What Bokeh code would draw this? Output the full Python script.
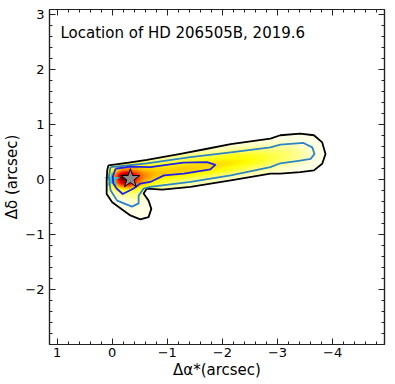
import numpy as np
from bokeh.plotting import figure
from bokeh.models import Range1d, LinearAxis, FixedTicker, Label, LinearColorMapper
from bokeh.embed import file_html
from bokeh.resources import INLINE

# ---------------- data ----------------
title_text = "Location of HD 206505B, 2019.6"
x_label = "Δα*(arcsec)"
y_label = "Δδ (arcsec)"
x_ticks = [1, 0, -1, -2, -3, -4]
x_tick_labels = ["1", "0", "−1", "−2", "−3", "−4"]
y_ticks = [-2, -1, 0, 1, 2, 3]
y_tick_labels = ["−2", "−1", "0", "1", "2", "3"]

host_x = [0.0]
host_y = [0.0]
companion_x = [-0.33]
companion_y = [0.02]

# posterior density model: gaussian components (center, width, weight)
comp_x = [-0.24, -0.30, -0.80, -1.30, -1.80, -2.30, -2.80, -3.30, -0.45]
comp_y = [0.02, 0.02, 0.10, 0.18, 0.25, 0.33, 0.40, 0.48, -0.40]
comp_sx = [0.13, 0.30, 0.35, 0.35, 0.35, 0.35, 0.35, 0.30, 0.12]
comp_sy = [0.10, 0.18, 0.16, 0.16, 0.16, 0.16, 0.16, 0.16, 0.15]
comp_w = [0.48, 0.40, 0.20, 0.20, 0.19, 0.17, 0.13, 0.08, 0.04]

# contour lines (outer = black, middle = light blue, inner = blue)
black_x = [0.07, -0.30, -0.63, -1.24, -1.70, -2.15, -2.87, -3.05, -3.41, -3.66, -3.81, -3.87,
           -3.81, -3.66, -3.41, -3.05, -2.87, -2.15, -1.42, -0.91, -0.63, -0.57, -0.66, -0.71,
           -0.66, -0.51, -0.33, 0.00, 0.10, 0.10, 0.09, 0.07]
black_y = [0.26, 0.31, 0.36, 0.47, 0.56, 0.65, 0.75, 0.81, 0.84, 0.81, 0.68, 0.47,
           0.29, 0.17, 0.14, 0.11, 0.11, -0.01, -0.13, -0.18, -0.16, -0.25, -0.38, -0.53,
           -0.68, -0.72, -0.65, -0.41, -0.26, -0.01, 0.17, 0.26]
lblue_x = [0.03, -0.63, -1.42, -2.15, -2.87, -3.05, -3.47, -3.63, -3.67, -3.60, -3.41, -3.05,
           -2.87, -2.15, -1.42, -0.69, -0.57, -0.48, -0.48, -0.36, -0.09, 0.03, 0.06, 0.03]
lblue_y = [0.23, 0.30, 0.41, 0.50, 0.59, 0.64, 0.67, 0.59, 0.47, 0.38, 0.35, 0.30,
           0.23, 0.08, -0.04, -0.13, -0.16, -0.29, -0.43, -0.49, -0.38, -0.19, 0.05, 0.23]
blue_x = [-0.06, -0.33, -0.69, -1.29, -1.72, -1.87, -1.78, -1.30, -0.94, -0.69, -0.51, -0.39,
          -0.19, -0.08, -0.02, -0.01, -0.06]
blue_y = [0.20, 0.24, 0.23, 0.31, 0.32, 0.27, 0.19, 0.11, 0.08, -0.04, -0.07, -0.16,
          -0.26, -0.16, -0.07, 0.05, 0.20]

# ---------------- density image ----------------
gx = np.linspace(-4.0, 0.2, 211)
gy = np.linspace(-0.85, 0.95, 91)
XX, YY = np.meshgrid(gx, gy)
Z = np.zeros_like(XX)
for cx, cy, sx, sy, w in zip(comp_x, comp_y, comp_sx, comp_sy, comp_w):
    Z += w * np.exp(-0.5 * (((XX - cx) / sx) ** 2 + ((YY - cy) / sy) ** 2))


def inside(px, py, vx, vy):
    res = np.zeros(px.shape, dtype=bool)
    n = len(vx)
    j = n - 1
    for i in range(n):
        xi, yi, xj, yj = vx[i], vy[i], vx[j], vy[j]
        cond = ((yi > py) != (yj > py)) & (px < (xj - xi) * (py - yi) / (yj - yi + 1e-12) + xi)
        res ^= cond
        j = i
    return res


mask = inside(XX, YY, black_x, black_y)
Z = np.where(mask, np.maximum(Z, 0.03), np.nan)

# hot_r colormap
vals = np.linspace(0, 1, 256)
t = 1 - vals
r = 0.0416 + (1 - 0.0416) * np.clip(t / 0.365, 0, 1)
g = np.clip((t - 0.365) / 0.381, 0, 1)
b = np.clip((t - 0.746) / 0.254, 0, 1)
hot_r = ["#%02x%02x%02x" % (int(round(255 * rr)), int(round(255 * gg)), int(round(255 * bb)))
         for rr, gg, bb in zip(r, g, b)]
cmap = LinearColorMapper(palette=hot_r, low=0, high=1, nan_color="rgba(0,0,0,0)")

# ---------------- figure ----------------
p = figure(width=395, height=384,
           x_range=Range1d(1.137, -4.94), y_range=Range1d(-3.0, 3.1),
           output_backend="svg", toolbar_location=None,
           min_border_left=49, min_border_right=11, min_border_top=9, min_border_bottom=40,
           background_fill_color="white", border_fill_color="white")
p.xgrid.visible = False
p.ygrid.visible = False
p.outline_line_color = "#222222"
p.outline_line_width = 1.2

p.image(image=[Z], x=gx[0], y=gy[0], dw=gx[-1] - gx[0], dh=gy[-1] - gy[0], color_mapper=cmap)

p.scatter(host_x, host_y, marker="star", size=17, fill_color="#2ec4d0", line_color=None, fill_alpha=0.9)

p.line(black_x, black_y, line_color="black", line_width=1.8, line_join="round")
p.line(lblue_x, lblue_y, line_color="#2c84c6", line_width=1.8, line_join="round")
p.line(blue_x, blue_y, line_color="#1f1fee", line_width=1.8, line_join="round")

p.scatter(companion_x, companion_y, marker="star", size=20, fill_color="#8c8c8c",
          line_color="black", line_width=1)

minor = list(np.round(np.arange(-6.0, 4.01, 0.2), 2))
xt = FixedTicker(ticks=x_ticks, minor_ticks=minor)
yt = FixedTicker(ticks=y_ticks, minor_ticks=minor)


def style_axis(ax, ticker, labels, show_labels):
    ax.ticker = ticker
    ax.axis_line_color = "#222222"
    ax.axis_line_width = 1.2
    ax.major_tick_in = 6
    ax.major_tick_out = 0
    ax.minor_tick_in = 3
    ax.minor_tick_out = 0
    ax.major_tick_line_color = "#222222"
    ax.minor_tick_line_color = "#222222"
    if show_labels:
        ax.major_label_overrides = labels
        ax.major_label_text_font = "DejaVu Sans"
        ax.major_label_text_font_size = "13px"
        ax.major_label_text_color = "black"
        ax.axis_label_text_font = "DejaVu Sans"
        ax.axis_label_text_font_size = "15px"
        ax.axis_label_text_font_style = "normal"
        ax.axis_label_text_color = "black"
    else:
        ax.major_label_text_font_size = "1px"
        ax.major_label_text_color = None
        ax.major_label_standoff = 0
        ax.axis_label_standoff = 0


xlab = {v: s for v, s in zip(x_ticks, x_tick_labels)}
ylab = {v: s for v, s in zip(y_ticks, y_tick_labels)}

style_axis(p.xaxis[0], xt, xlab, True)
p.xaxis[0].axis_label = x_label
p.xaxis[0].major_label_standoff = 3
p.xaxis[0].axis_label_standoff = 1
style_axis(p.yaxis[0], yt, ylab, True)
p.yaxis[0].axis_label = y_label
p.yaxis[0].major_label_standoff = 5
p.yaxis[0].axis_label_standoff = 1

top_ax = LinearAxis()
style_axis(top_ax, xt, None, False)
p.add_layout(top_ax, "above")
right_ax = LinearAxis()
style_axis(right_ax, yt, None, False)
p.add_layout(right_ax, "right")

p.add_layout(Label(x=11, y=312, x_units="screen", y_units="screen", text=title_text,
                   text_font="DejaVu Sans", text_font_size="15px", text_color="black",
                   text_baseline="alphabetic"))

open("out.html", "w").write(file_html(p, INLINE))
